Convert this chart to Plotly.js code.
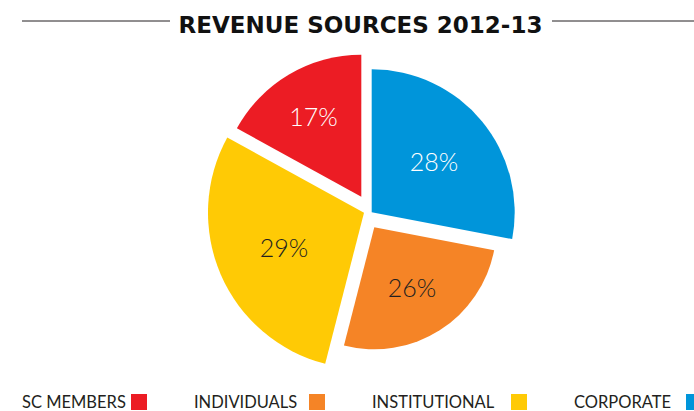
<!DOCTYPE html>
<html>
<head>
<meta charset="utf-8">
<script src="https://cdn.plot.ly/plotly-3.0.1.min.js"></script>
<style>html,body{margin:0;padding:0;background:#fff;}#chart{width:694px;height:411px;}</style>
</head>
<body>
<div id="chart"></div>
<script>
// ---- data ----
const sliceLabels = ['CORPORATE', 'INDIVIDUALS', 'INSTITUTIONAL', 'SC MEMBERS'];
const sliceValues = [28, 26, 29, 17];
const sliceColors = ['#0095da', '#f58426', '#ffca05', '#ec1c24'];
const labelColors = ['#ffffff', '#231f20', '#231f20', '#ffffff'];
const legendOrder = ['SC MEMBERS', 'INDIVIDUALS', 'INSTITUTIONAL', 'CORPORATE'];
const chartTitle = 'REVENUE SOURCES 2012-13';

// ---- layout constants (pixels) ----
const W = 694, H = 411;
const sliceCenters = [[371.7, 212.3], [374.3, 227.3], [364, 212.7], [361.3, 196.7]];
const sliceRadii = [143, 122, 156, 142];
const legendTextX = [20, 192, 370, 572];
const legendBoxX = [131, 309, 511, 686];

const traces = sliceLabels.map((lab, k) => {
  const [cx, cy] = sliceCenters[k];
  const r = sliceRadii[k];
  return {
    type: 'pie',
    labels: sliceLabels,
    values: sliceValues,
    sort: false,
    direction: 'clockwise',
    rotation: 0,
    marker: {
      colors: sliceColors.map((c, i) => i === k ? c : 'rgba(0,0,0,0)'),
      line: {width: 0}
    },
    texttemplate: sliceLabels.map((_, i) => i === k ? '%{percent}' : ''),
    textposition: 'inside',
    insidetextorientation: 'horizontal',
    textfont: {family: 'Lato, "Open Sans", sans-serif', size: 25, weight: 300,
               color: labelColors.map((c, i) => i === k ? c : 'rgba(0,0,0,0)')},
    hoverinfo: 'skip',
    showlegend: false,
    domain: {
      x: [(cx - r) / W, (cx + r) / W],
      y: [1 - (cy + r) / H, 1 - (cy - r) / H]
    }
  };
});

const shapes = [
  {type: 'line', xref: 'paper', yref: 'paper', x0: 22 / W, x1: 170 / W, y0: 1 - 21 / H, y1: 1 - 21 / H, line: {color: '#231f20', width: 1}},
  {type: 'line', xref: 'paper', yref: 'paper', x0: 552 / W, x1: 1, y0: 1 - 21 / H, y1: 1 - 21 / H, line: {color: '#231f20', width: 1}}
];
const annotations = [];
legendOrder.forEach((name, j) => {
  const idx = sliceLabels.indexOf(name);
  annotations.push({
    xref: 'paper', yref: 'paper', x: legendTextX[j] / W, y: 1 - 402 / H,
    xanchor: 'left', yanchor: 'middle', showarrow: false,
    text: name, font: {family: 'Lato, "Open Sans", sans-serif', size: 16.5, color: '#231f20'}
  });
  shapes.push({
    type: 'rect', xref: 'paper', yref: 'paper',
    x0: legendBoxX[j] / W, x1: (legendBoxX[j] + 16) / W,
    y0: 1 - 410 / H, y1: 1 - 394 / H,
    fillcolor: sliceColors[idx], line: {width: 0}
  });
});

const layout = {
  width: W, height: H,
  margin: {l: 0, r: 0, t: 0, b: 0},
  paper_bgcolor: '#ffffff',
  title: {
    text: '<b>' + chartTitle + '</b>',
    x: 360.5 / W, xanchor: 'center', xref: 'paper',
    y: 1 - 24.5 / H, yanchor: 'middle', yref: 'container',
    font: {family: '"DejaVu Sans", sans-serif', size: 23, color: '#111111'}
  },
  shapes: shapes,
  annotations: annotations
};

Plotly.newPlot('chart', traces, layout, {displayModeBar: false, staticPlot: true});
</script>
</body>
</html>
